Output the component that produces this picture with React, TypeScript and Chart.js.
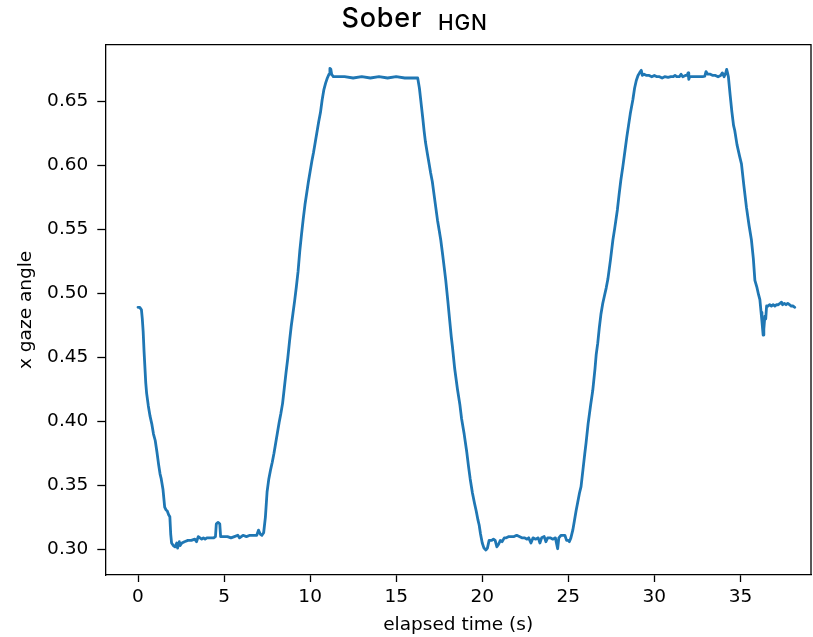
import React, { useEffect, useRef } from 'react';
import { Chart, registerables } from 'chart.js';

Chart.register(...registerables);

const titleMain = 'Sober';
const titleSub = 'HGN';
const xAxisLabel = 'elapsed time (s)';
const yAxisLabel = 'x gaze angle';

const xTicks = [0, 5, 10, 15, 20, 25, 30, 35];
const yTicks = [0.3, 0.35, 0.4, 0.45, 0.5, 0.55, 0.6, 0.65];

const timeS = [
  0.0, 0.1, 0.2, 0.25, 0.3, 0.35, 0.45, 0.5, 0.6, 0.7, 0.8, 0.9, 1.0, 1.1, 1.2, 1.28, 1.35, 1.45, 1.5, 1.55,
  1.62, 1.7, 1.78, 1.85, 1.9, 1.95, 2.05, 2.15, 2.25, 2.3, 2.4, 2.45, 2.55, 2.7, 2.9, 3.1, 3.3, 3.4, 3.5, 3.6,
  3.7, 3.8, 3.9, 4.0, 4.2, 4.4, 4.5, 4.55, 4.65, 4.75, 4.8, 5.0, 5.2, 5.4, 5.6, 5.8, 5.9, 6.1, 6.3, 6.5,
  6.7, 6.9, 7.0, 7.1, 7.2, 7.3, 7.4, 7.5, 7.6, 7.7, 7.8, 7.9, 8.0, 8.1, 8.2, 8.3, 8.4, 8.5, 8.6, 8.7,
  8.8, 8.9, 9.0, 9.1, 9.2, 9.3, 9.4, 9.5, 9.6, 9.7, 9.8, 9.9, 10.0, 10.1, 10.2, 10.3, 10.4, 10.5, 10.6, 10.7,
  10.8, 10.9, 11.0, 11.1, 11.15, 11.2, 11.25, 11.35, 11.5, 12.0, 12.5, 13.0, 13.5, 14.0, 14.5, 15.0, 15.5, 16.0, 16.2, 16.25,
  16.35, 16.45, 16.55, 16.62, 16.7, 16.81, 16.9, 17.0, 17.1, 17.2, 17.3, 17.4, 17.5, 17.59, 17.7, 17.8, 17.88, 18.0, 18.1, 18.2,
  18.27, 18.4, 18.56, 18.7, 18.8, 18.95, 19.1, 19.2, 19.3, 19.43, 19.55, 19.65, 19.75, 19.82, 19.9, 20.0, 20.1, 20.21, 20.3, 20.4,
  20.55, 20.65, 20.75, 20.85, 20.95, 21.05, 21.15, 21.28, 21.4, 21.55, 21.7, 21.85, 22.0, 22.15, 22.3, 22.45, 22.6, 22.7, 22.83, 22.95,
  23.1, 23.25, 23.35, 23.45, 23.6, 23.7, 23.8, 23.95, 24.1, 24.25, 24.38, 24.45, 24.58, 24.7, 24.8, 24.9, 25.0, 25.06, 25.15, 25.26,
  25.35, 25.45, 25.55, 25.65, 25.74, 25.85, 25.95, 26.03, 26.15, 26.3, 26.42, 26.55, 26.62, 26.71, 26.8, 26.9, 27.0, 27.1, 27.2, 27.3,
  27.45, 27.59, 27.7, 27.85, 27.95, 28.05, 28.17, 28.3, 28.4, 28.5, 28.6, 28.75, 28.85, 28.95, 29.05, 29.14, 29.24, 29.3, 29.4, 29.55,
  29.7, 29.85, 30.0, 30.15, 30.3, 30.45, 30.6, 30.8, 30.95, 31.1, 31.2, 31.3, 31.45, 31.55, 31.65, 31.8, 31.9, 31.96, 32.0, 32.05,
  32.2, 32.4, 32.6, 32.8, 32.93, 33.0, 33.1, 33.25, 33.4, 33.55, 33.7, 33.85, 33.95, 34.05, 34.15, 34.2, 34.25, 34.3, 34.4, 34.5,
  34.6, 34.67, 34.8, 34.95, 35.06, 35.2, 35.35, 35.5, 35.64, 35.75, 35.84, 35.95, 36.05, 36.13, 36.2, 36.25, 36.32, 36.36, 36.42, 36.47,
  36.52, 36.6, 36.7, 36.8, 36.9, 37.0, 37.1, 37.2, 37.3, 37.39, 37.45, 37.55, 37.65, 37.75, 37.85, 37.95, 38.05, 38.16,
];

const gazeX = [
  0.489, 0.489, 0.487, 0.48, 0.47, 0.455, 0.43, 0.422, 0.412, 0.404, 0.398, 0.39, 0.385, 0.376, 0.366, 0.359, 0.355, 0.347, 0.34, 0.333,
  0.331, 0.33, 0.327, 0.3255, 0.312, 0.305, 0.303, 0.302, 0.305, 0.301, 0.306, 0.303, 0.305, 0.306, 0.307, 0.307, 0.308, 0.306, 0.31, 0.309,
  0.308, 0.309, 0.308, 0.309, 0.309, 0.309, 0.31, 0.32, 0.321, 0.32, 0.31, 0.31, 0.31, 0.309, 0.31, 0.311, 0.309, 0.311, 0.31, 0.311,
  0.311, 0.311, 0.315, 0.312, 0.311, 0.313, 0.325, 0.345, 0.355, 0.362, 0.368, 0.375, 0.383, 0.391, 0.399, 0.406, 0.414, 0.426, 0.438, 0.449,
  0.462, 0.474, 0.484, 0.494, 0.505, 0.517, 0.533, 0.546, 0.558, 0.569, 0.578, 0.587, 0.595, 0.603, 0.61, 0.618, 0.626, 0.634, 0.641, 0.651,
  0.659, 0.664, 0.668, 0.671, 0.6755, 0.675, 0.671, 0.669, 0.669, 0.669, 0.668, 0.669, 0.668, 0.669, 0.668, 0.669, 0.668, 0.668, 0.668, 0.668,
  0.66, 0.648, 0.636, 0.627, 0.618, 0.609, 0.602, 0.594, 0.587, 0.577, 0.567, 0.557, 0.549, 0.5415, 0.53, 0.519, 0.51, 0.494, 0.48, 0.466,
  0.458, 0.441, 0.425, 0.413, 0.402, 0.39, 0.376, 0.365, 0.355, 0.344, 0.336, 0.33, 0.323, 0.319, 0.312, 0.305, 0.301, 0.2995, 0.301, 0.307,
  0.307, 0.308, 0.307, 0.302, 0.304, 0.307, 0.306, 0.309, 0.309, 0.31, 0.31, 0.31, 0.311, 0.31, 0.309, 0.309, 0.308, 0.309, 0.305, 0.309,
  0.308, 0.309, 0.305, 0.309, 0.31, 0.306, 0.309, 0.309, 0.308, 0.309, 0.3005, 0.309, 0.311, 0.311, 0.311, 0.307, 0.307, 0.306, 0.309, 0.315,
  0.322, 0.33, 0.337, 0.344, 0.349, 0.362, 0.374, 0.383, 0.398, 0.413, 0.424, 0.441, 0.452, 0.461, 0.473, 0.484, 0.492, 0.498, 0.504, 0.511,
  0.526, 0.5415, 0.551, 0.565, 0.577, 0.588, 0.599, 0.612, 0.622, 0.631, 0.64, 0.651, 0.66, 0.666, 0.67, 0.672, 0.674, 0.67, 0.671, 0.67,
  0.67, 0.669, 0.67, 0.669, 0.669, 0.668, 0.669, 0.6685, 0.669, 0.669, 0.67, 0.669, 0.669, 0.671, 0.669, 0.67, 0.67, 0.672, 0.667, 0.669,
  0.669, 0.669, 0.669, 0.669, 0.6695, 0.673, 0.671, 0.671, 0.67, 0.67, 0.669, 0.67, 0.672, 0.669, 0.672, 0.6747, 0.672, 0.669, 0.655, 0.642,
  0.631, 0.627, 0.616, 0.607, 0.601, 0.584, 0.567, 0.553, 0.5415, 0.527, 0.51, 0.505, 0.499, 0.495, 0.485, 0.478, 0.4673, 0.472, 0.482, 0.48,
  0.49, 0.49, 0.491, 0.49, 0.491, 0.49, 0.491, 0.491, 0.492, 0.493, 0.491, 0.492, 0.491, 0.492, 0.491, 0.49, 0.49, 0.489,
];

const LINE_COLOR = '#1f77b4';
const AXIS_FONT = "'DejaVu Sans', sans-serif";
const AXIS_SIZE = 18.5;

const framePlugin = {
  id: 'frameAndTitle',
  afterDraw(chart: any) {
    const { ctx, chartArea } = chart;
    ctx.save();
    ctx.strokeStyle = '#000';
    ctx.lineWidth = 1.3;
    ctx.beginPath();
    ctx.moveTo(chartArea.left, chartArea.top);
    ctx.lineTo(chartArea.right, chartArea.top);
    ctx.lineTo(chartArea.right, chartArea.bottom);
    ctx.stroke();

    ctx.fillStyle = '#000';
    ctx.textBaseline = 'alphabetic';
    ctx.textAlign = 'left';
    ctx.font = "500 27px 'Inter', sans-serif";
    (ctx as any).letterSpacing = '0.8px';
    ctx.fillText(titleMain, 341.5, 26.7);
    ctx.font = "500 21px 'Inter', sans-serif";
    (ctx as any).letterSpacing = '0.8px';
    ctx.fillText(titleSub, 438, 30);
    (ctx as any).letterSpacing = '0px';
    ctx.restore();
  },
};

export default function App() {
  const canvasRef = useRef<HTMLCanvasElement | null>(null);

  useEffect(() => {
    document.body.style.margin = '0';
    const canvas = canvasRef.current;
    if (!canvas) return;
    const points = timeS.map((t, i) => ({ x: t, y: gazeX[i] }));
    const chart = new Chart(canvas, {
      type: 'line',
      data: {
        datasets: [
          {
            data: points,
            borderColor: LINE_COLOR,
            backgroundColor: LINE_COLOR,
            borderWidth: 2.8,
            borderJoinStyle: 'round',
            borderCapStyle: 'round',
            pointRadius: 0,
            tension: 0,
            fill: false,
          },
        ],
      },
      options: {
        animation: false,
        responsive: false,
        devicePixelRatio: 1,
        layout: { padding: { top: 44.7, right: 2, left: 0, bottom: 0 } },
        plugins: { legend: { display: false }, tooltip: { enabled: false }, title: { display: false } },
        scales: {
          x: {
            type: 'linear',
            min: -1.9,
            max: 39.1,
            afterFit: (s: any) => {
              s.height = 62;
            },
            afterBuildTicks: (s: any) => {
              s.ticks = xTicks.map((v) => ({ value: v }));
            },
            grid: { drawOnChartArea: false, drawTicks: true, tickLength: 7, tickColor: '#000', tickWidth: 1.3 },
            border: { display: true, color: '#000', width: 1.3 },
            ticks: {
              color: '#000',
              font: { family: AXIS_FONT, size: AXIS_SIZE },
              padding: 4,
              maxRotation: 0,
              autoSkip: false,
              callback: (v: any) => String(v),
            },
            title: {
              display: true,
              text: xAxisLabel,
              color: '#000',
              font: { family: AXIS_FONT, size: AXIS_SIZE },
              padding: { top: 0, bottom: 1 },
            },
          },
          y: {
            type: 'linear',
            min: 0.28,
            max: 0.694,
            afterFit: (s: any) => {
              s.width = 105.3;
            },
            afterBuildTicks: (s: any) => {
              s.ticks = yTicks.map((v) => ({ value: v }));
            },
            grid: { drawOnChartArea: false, drawTicks: true, tickLength: 8, tickColor: '#000', tickWidth: 1.3 },
            border: { display: true, color: '#000', width: 1.3 },
            ticks: {
              color: '#000',
              font: { family: AXIS_FONT, size: AXIS_SIZE },
              padding: 9,
              autoSkip: false,
              callback: (v: any) => Number(v).toFixed(2),
            },
            title: {
              display: true,
              text: yAxisLabel,
              color: '#000',
              font: { family: AXIS_FONT, size: AXIS_SIZE },
              padding: { top: 15.5, bottom: 0 },
            },
          },
        },
      },
      plugins: [framePlugin],
    });
    return () => chart.destroy();
  }, []);

  return (
    <div style={{ position: 'fixed', left: 0, top: 0, width: 813, height: 637, background: '#fff' }}>
      <canvas ref={canvasRef} width={813} height={637} style={{ width: 813, height: 637, display: 'block' }} />
    </div>
  );
}
